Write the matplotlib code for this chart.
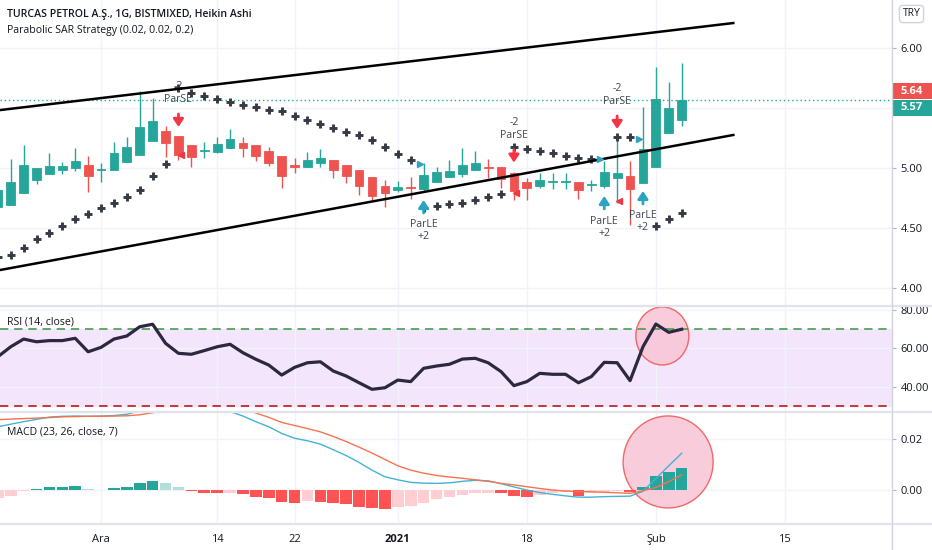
import numpy as np
import matplotlib
matplotlib.use("Agg")
import matplotlib.pyplot as plt
from matplotlib.patches import Ellipse, Rectangle
from matplotlib.lines import Line2D
from matplotlib.transforms import ScaledTranslation, blended_transform_factory

plt.rcParams['font.family'] = ['Open Sans', 'DejaVu Sans']

# bar index 0 = 1 Dec 2020 (daily bars, Heikin Ashi)
bars = np.arange(-8, 46)

opens = [4.675, 4.69, 4.79, 4.90, 4.95, 4.983, 5.0, 5.025,
         4.98, 4.983, 5.05, 5.108, 5.225, 5.308, 5.267, 5.19, 5.14, 5.133,
         5.167, 5.208, 5.19, 5.142, 5.1, 5.025, 5.008, 5.042, 5.067, 5.025,
         4.983, 4.925, 4.85, 4.817, 4.84, 4.825, 4.883, 4.925, 4.95, 4.983,
         5.01, 5.008, 4.958, 4.883, 4.85, 4.88, 4.88, 4.883, 4.855, 4.85,
         4.917, 4.933, 4.875, 5.008, 5.292, 5.4]
highs = [4.84, 5.075, 5.19, 5.0, 5.125, 5.05, 5.167, 5.1,
         5.04, 5.217, 5.258, 5.642, 5.583, 5.35, 5.267, 5.19, 5.217, 5.258,
         5.325, 5.258, 5.19, 5.175, 5.1, 5.083, 5.133, 5.158, 5.067, 5.025,
         4.983, 4.925, 4.9, 4.89, 4.925, 5.042, 5.008, 5.067, 5.167, 5.142,
         5.075, 5.008, 4.97, 4.917, 4.958, 4.958, 4.958, 4.883, 4.9, 5.058,
         5.25, 5.058, 5.508, 5.842, 5.717, 5.875]
lows = [4.65, 4.69, 4.79, 4.87, 4.95, 4.95, 4.975, 4.8,
        4.88, 4.983, 5.05, 5.108, 5.225, 5.09, 5.067, 5.008, 5.083, 5.125,
        5.167, 5.092, 5.058, 5.017, 4.83, 4.958, 5.008, 5.008, 4.917, 4.875,
        4.775, 4.733, 4.675, 4.8, 4.74, 4.8, 4.883, 4.925, 4.925, 4.983,
        4.917, 4.833, 4.733, 4.733, 4.833, 4.825, 4.825, 4.742, 4.81, 4.833,
        4.708, 4.525, 4.875, 5.008, 5.292, 5.35]
closes = [4.82, 4.883, 5.025, 5.0, 5.017, 5.017, 5.058, 4.933,
          4.99, 5.125, 5.175, 5.342, 5.392, 5.208, 5.108, 5.09, 5.15, 5.2,
          5.242, 5.167, 5.1, 5.042, 4.933, 5.01, 5.067, 5.083, 4.983, 4.933,
          4.85, 4.767, 4.79, 4.842, 4.83, 4.942, 4.967, 4.975, 5.025, 5.042,
          5.0, 4.908, 4.808, 4.833, 4.9, 4.885, 4.885, 4.817, 4.86, 4.967,
          4.958, 4.825, 5.158, 5.575, 5.5, 5.567]

sar = [4.258, 4.275, 4.333, 4.408, 4.458, 4.517, 4.575, 4.617,
       4.667, 4.708, 4.758, 4.817, 4.933, 5.033, 5.667, 5.625, 5.6, 5.575,
       5.55, 5.525, 5.508, 5.483, 5.475, 5.433, 5.4, 5.367, 5.333, 5.3,
       5.275, 5.233, 5.175, 5.117, 5.067, 4.67, 4.683, 4.7, 4.71, 4.733,
       4.758, 4.783, 5.175, 5.158, 5.142, 5.125, 5.1, 5.083, 5.075, np.nan,
       5.258, 5.258, np.nan, 4.517, 4.575, 4.625]

rsi = [55.7, 60.9, 64.9, 63.5, 64.1, 64.1, 65.3, 58.3,
       60.6, 64.9, 66.5, 71.3, 72.6, 62.7, 57.5, 57.0, 58.9, 60.9,
       62.2, 57.8, 54.4, 51.4, 46.2, 50.2, 52.6, 53.1, 48.3, 45.7,
       42.2, 38.8, 39.6, 43.6, 42.8, 49.7, 50.9, 51.8, 54.5, 54.9,
       52.6, 48.0, 40.7, 42.8, 47.1, 46.6, 46.6, 42.2, 45.4, 52.8,
       52.6, 43.3, 60.9, 72.7, 68.4, 70.0]

macd = [0.0248, 0.0258, 0.0268, 0.0277, 0.0286, 0.0289, 0.0290, 0.0289,
        0.0290, 0.0292, 0.0297, 0.0310, 0.0330, 0.0345, 0.0350, 0.0345, 0.0335, 0.0322,
        0.0308, 0.0290, 0.0268, 0.0248, 0.0222, 0.0203, 0.0193, 0.0180, 0.0158, 0.0135,
        0.0108, 0.0078, 0.0052, 0.0040, 0.0030, 0.0027, 0.0026, 0.0028, 0.0034, 0.0038,
        0.0036, 0.0025, 0.0012, 0.0000, -0.0010, -0.0017, -0.0023, -0.0028, -0.0028, -0.0026,
        -0.0025, -0.0024, -0.0005, 0.0045, 0.0095, 0.0144]
signal = [0.0276, 0.0278, 0.0280, 0.0282, 0.0284, 0.0287, 0.0288, 0.0289,
          0.0289, 0.0290, 0.0291, 0.0295, 0.0303, 0.0315, 0.0325, 0.0332, 0.0335, 0.0335,
          0.0330, 0.0318, 0.0302, 0.0285, 0.0265, 0.0253, 0.0241, 0.0228, 0.0210, 0.0190,
          0.0168, 0.0145, 0.0120, 0.0095, 0.0078, 0.0066, 0.0057, 0.0051, 0.0046, 0.0040,
          0.0034, 0.0026, 0.0020, 0.0013, 0.0006, 0.0000, -0.0004, -0.0006, -0.0007, -0.0009,
          -0.0011, -0.0013, -0.0003, 0.0010, 0.0033, 0.0059]
hist = [-0.0033, -0.0022, -0.0004, 0.0005, 0.0012, 0.0012, 0.0016, 0.0004,
        0.00013, 0.0008, 0.0012, 0.0027, 0.0037, 0.0027, 0.0012, -0.0005, -0.001, -0.0011,
        -0.001, -0.0014, -0.0026, -0.0033, -0.0046, -0.005, -0.0042, -0.0046, -0.0052, -0.0056,
        -0.0068, -0.0071, -0.0073, -0.0065, -0.0061, -0.005, -0.0037, -0.0029, -0.002, -0.0013,
        -0.001, -0.0013, -0.0024, -0.0026, -0.002, -0.0013, -0.0008, -0.0024, -0.0013, -0.0008,
        -0.0005, -0.0008, 0.001, 0.0055, 0.0072, 0.0086]

tick_bars = [0, 9, 15, 23, 33, 43, 53]
tick_names = ['Ara', '14', '22', '2021', '18', 'Şub', '15']

# strategy signals
short_bars = [6, 32, 40]
long_bars = [25, 39, 42]
short_fill = [5.108, 4.79, 4.725]
long_fill = [5.033, 5.075, 5.242]

# drawn channel
upper_x, upper_y = [-7.8, 49.0], [5.483, 6.208]
lower_x, lower_y = [-7.8, 49.0], [4.15, 5.275]

last_close = 5.57
last_price = 5.64

TEAL = '#26a69a'
RED = '#ef5350'
TXT = '#131722'
GRID = '#f0f3fa'
SEP = '#e0e3eb'
FS = 7.6

W, H = 932, 550
fig = plt.figure(figsize=(W / 100, H / 100), dpi=100)
fig.patch.set_facecolor('white')


def rect(top, bottom, left=0, right=892):
    return [left / W, 1 - bottom / H, (right - left) / W, (bottom - top) / H]


ax_p = fig.add_axes(rect(0, 305))
ax_r = fig.add_axes(rect(307, 411), sharex=ax_p)
ax_m = fig.add_axes(rect(413, 524), sharex=ax_p)

for ax in (ax_p, ax_r, ax_m):
    for s in ax.spines.values():
        s.set_visible(False)
    ax.yaxis.tick_right()
    ax.tick_params(axis='y', length=3, color='#b2b5be', labelsize=8,
                   labelcolor=TXT, pad=3)
    ax.tick_params(axis='x', length=0)
    ax.set_xticks(tick_bars)
    ax.grid(color=GRID, lw=1)
    ax.set_axisbelow(True)

ax_p.set_xlim(-7.83, 61.3)

# ---- price pane ----
o = np.array(opens); c = np.array(closes)
cols = np.where(c >= o, TEAL, RED)
ax_p.vlines(bars, lows, highs, colors=cols, lw=1, zorder=2)
ax_p.bar(bars, np.maximum(np.abs(c - o), 0.009), bottom=np.minimum(o, c),
         width=0.68, color=cols, edgecolor=cols, lw=0.6, zorder=3)

ax_p.plot(bars, sar, ls='none', marker='+', ms=5.6, mew=2.1, color='#363a45', zorder=4)

ax_p.plot(upper_x, upper_y, color='black', lw=1.8, zorder=5)
ax_p.plot(lower_x, lower_y, color='black', lw=1.8, zorder=5)

ax_p.axhline(last_close, color=TEAL, ls=(0, (1, 2)), lw=1, zorder=1)

px = 0.72  # points per pixel at dpi 100
hi = dict(zip(bars, highs)); lo = dict(zip(bars, lows))
for b in short_bars:
    ax_p.annotate('', xy=(b, hi[b]), xytext=(0, 22 * px), textcoords='offset points',
                  arrowprops=dict(arrowstyle='-|>,head_width=0.3,head_length=0.45',
                                  color='#f23645', lw=2, shrinkA=0, shrinkB=9 * px), zorder=6)
    ax_p.annotate('ParSE', xy=(b, hi[b]), xytext=(0, 36 * px), textcoords='offset points',
                  ha='center', va='center', fontsize=FS, color='#434651')
    ax_p.annotate('-2', xy=(b, hi[b]), xytext=(0, 49 * px), textcoords='offset points',
                  ha='center', va='center', fontsize=FS, color='#434651')
for b in long_bars:
    ax_p.annotate('', xy=(b, lo[b]), xytext=(0, -21 * px), textcoords='offset points',
                  arrowprops=dict(arrowstyle='-|>,head_width=0.3,head_length=0.45',
                                  color='#2aa4c0', lw=2, shrinkA=0, shrinkB=8 * px), zorder=6)
    ax_p.annotate('ParLE', xy=(b, lo[b]), xytext=(0, -33 * px), textcoords='offset points',
                  ha='center', va='center', fontsize=FS, color='#434651')
    ax_p.annotate('+2', xy=(b, lo[b]), xytext=(0, -45 * px), textcoords='offset points',
                  ha='center', va='center', fontsize=FS, color='#434651')

ax_p.plot(np.array(long_bars) - 0.3, long_fill, ls='none', marker='>', ms=5,
          color='#2aa4c0', zorder=6)
ax_p.plot(np.array(short_bars) + 0.17, short_fill, ls='none', marker='<', ms=5,
          color='#f23645', zorder=6)

ax_p.set_ylim(3.858, 6.4)
ax_p.set_yticks([4.0, 4.5, 5.0, 5.5, 6.0])
ax_p.set_yticklabels(['4.00', '4.50', '5.00', '', '6.00'])
ax_p.tick_params(axis='x', labelbottom=False)

# last-price labels on the scale (40 px wide boxes, 16 px tall)
tr = blended_transform_factory(ax_p.transAxes, ax_p.transData)
for price, shift, colr in ((last_price, 0, RED), (last_close, -8, TEAL)):
    box_t = fig.dpi_scale_trans + ScaledTranslation(1.0, price, tr)
    ax_p.add_patch(Rectangle((0, (shift - 8) / 100), 0.40, 0.16, transform=box_t,
                             fc=colr, ec='none', clip_on=False, zorder=10))
    ax_p.annotate(f'{price:.2f}', xy=(1.0, price), xycoords=tr,
                  xytext=(20 * px, shift * px), textcoords='offset points',
                  ha='center', va='center', fontsize=8, fontweight='bold',
                  color='white', zorder=11)

# ---- RSI pane ----
ax_r.axhspan(30, 70, color='#f3e6fc', zorder=0)
ax_r.axhline(70, color='#43a047', ls=(0, (5, 3.5)), lw=1.2)
ax_r.axhline(30, color='#b71c1c', ls=(0, (5, 3.5)), lw=1.2)
ax_r.plot(bars, rsi, color='#2c2842', lw=2.3, zorder=3)
ax_r.set_ylim(27.53, 81.56)
ax_r.set_yticks([40, 60, 80])
ax_r.set_yticklabels(['40.00', '60.00', '80.00'])
ax_r.tick_params(axis='x', labelbottom=False)

# ---- MACD pane ----
hv = np.array(hist)
prev = np.concatenate([[hv[0] - 1], hv[:-1]])
hcols = np.where(hv >= 0, np.where(hv >= prev, TEAL, '#b2dfdb'),
                 np.where(hv > prev, '#ffcdd2', '#ff5252'))
ax_m.bar(bars, hv, width=0.9, color=hcols, zorder=2)
ax_m.plot(bars, macd, color='#42b3d5', lw=1, zorder=3)
ax_m.plot(bars, signal, color='#f5734f', lw=1, zorder=3)
ax_m.set_ylim(-0.01333, 0.0302)
ax_m.set_yticks([0.0, 0.02])
ax_m.set_yticklabels(['0.00', '0.02'])
ax_m.set_xticklabels(tick_names)
ax_m.tick_params(axis='x', labelsize=8, labelcolor=TXT, pad=7)
for lab in ax_m.get_xticklabels():
    if lab.get_text() == '2021':
        lab.set_fontweight('bold')

# highlight circles (pixel size, anchored at data point), under the plots
for ax, cx, cy, w, h in ((ax_r, 43.5, 66.5, 0.53, 0.58), (ax_m, 43.95, 0.011, 0.90, 0.92)):
    e = Ellipse((0, 0), w, h, transform=fig.dpi_scale_trans + ScaledTranslation(cx, cy, ax.transData),
                fc='#f8c4d6', ec='#ef5350', lw=1, alpha=0.85, zorder=1.5, clip_on=False)
    ax.add_patch(e)

# pane separators and price scale border
for y in (306, 412, 524):
    fig.add_artist(Line2D([0, 1], [1 - y / H] * 2, color=SEP, lw=1.6))
fig.add_artist(Line2D([892 / W] * 2, [0, 1], color='#d1d4dc', lw=1))

# legends / headers
fig.text(7 / W, 1 - 14 / H, 'TURCAS PETROL A.Ş., 1G, BISTMIXED, Heikin Ashi',
         fontsize=FS, fontweight='semibold', color=TXT, va='center')
fig.text(7 / W, 1 - 31 / H, 'Parabolic SAR Strategy (0.02, 0.02, 0.2)',
         fontsize=FS, color=TXT, va='center')
fig.text(7 / W, 1 - 322 / H, 'RSI (14, close)', fontsize=FS, color=TXT, va='center')
fig.text(7 / W, 1 - 432 / H, 'MACD (23, 26, close, 7)', fontsize=FS, color=TXT, va='center')
fig.text(911.5 / W, 1 - 14 / H, 'TRY', fontsize=7.5, color=TXT, ha='center', va='center',
         bbox=dict(boxstyle='round,pad=0.3,rounding_size=0.3', fc='white', ec='#d1d4dc', lw=1))

fig.savefig('out.png', dpi=100)
